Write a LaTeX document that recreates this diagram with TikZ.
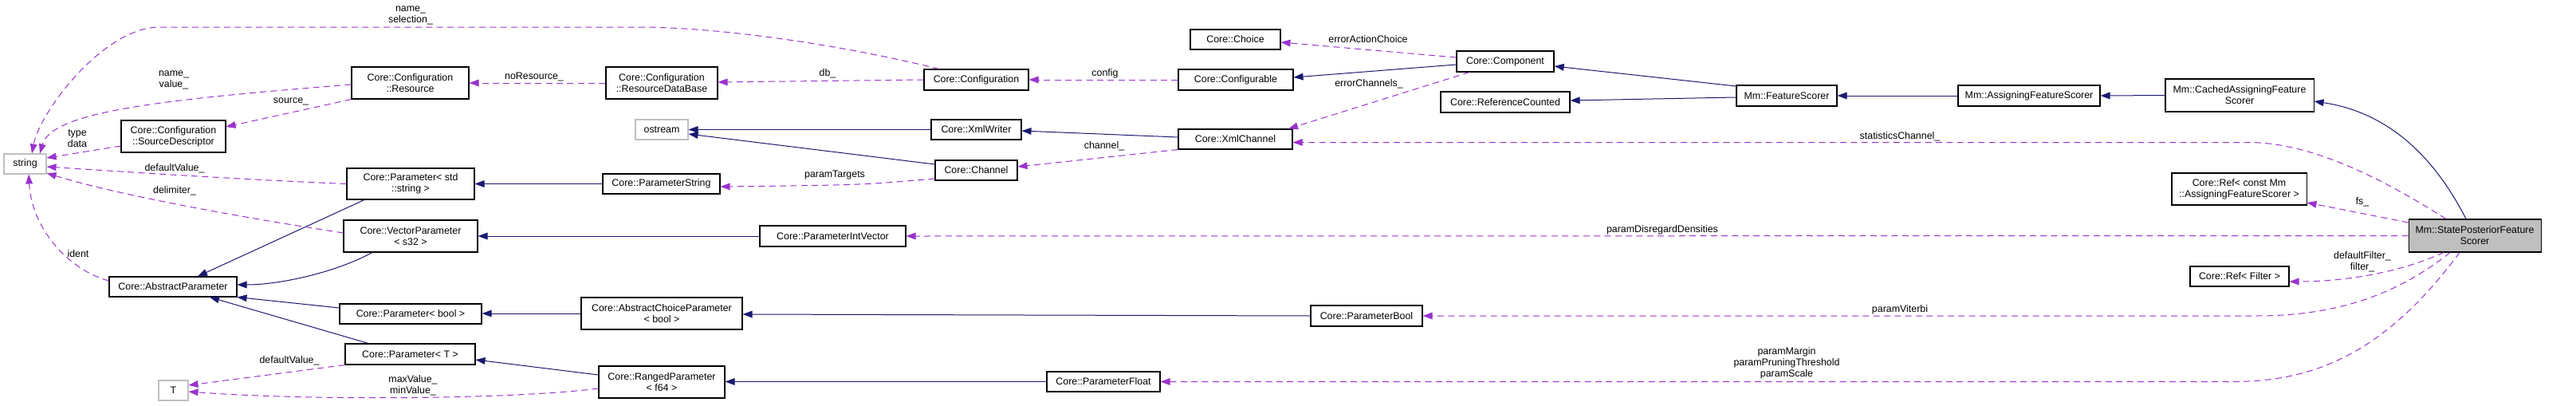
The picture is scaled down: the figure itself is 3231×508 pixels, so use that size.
\documentclass[tikz,border=0pt]{standalone}
\usepackage{fontspec}
\setmainfont{Liberation Sans}
\usetikzlibrary{arrows.meta}
\definecolor{inhcol}{HTML}{191970}
\definecolor{usecol}{HTML}{9A32CD}
\definecolor{extcol}{HTML}{BFBFBF}
\tikzstyle{cls}     = [rectangle, draw=black, fill=white, line width=0.8pt, inner sep=1pt, align=center, font=\fontsize{9.3}{10.5}\selectfont]
\tikzstyle{ext}     = [cls, draw=extcol]
\tikzstyle{focus}   = [cls, fill=extcol]
\tikzstyle{lbl}     = [inner sep=0pt, align=center, font=\fontsize{9.3}{10.5}\selectfont]
\tikzstyle{inherit} = [draw=inhcol, line width=0.75pt, -{Triangle[length=9pt,width=6.5pt]}]
\tikzstyle{member}  = [draw=usecol, line width=0.75pt, dash pattern=on 6pt off 4pt, -{Triangle[length=9pt,width=6.5pt]}]

\begin{document}
\begin{tikzpicture}[x=0.75pt, y=-0.75pt]
      \useasboundingbox (0,0) rectangle (3231,508);

      \node (string)       [ext, minimum width=39.75pt, minimum height=18.75pt] at (31.5,205.5)  {string};
      \node (resource)     [cls, minimum width=110.25pt, minimum height=30pt]   at (514.5,104)   {Core::Configuration\\::Resource};
      \node (sourcedesc)   [cls, minimum width=98.25pt, minimum height=30pt]    at (217.5,171)   {Core::Configuration\\::SourceDescriptor};
      \node (paramstd)     [cls, minimum width=120pt, minimum height=29.25pt]   at (515,230.5)   {Core::Parameter< std\\::string >};
      \node (vecparam)     [cls, minimum width=126pt, minimum height=30pt]      at (515,296)     {Core::VectorParameter\\< s32 >};
      \node (absparam)     [cls, minimum width=120pt, minimum height=18.75pt]   at (217,359.5)   {Core::AbstractParameter};
      \node (parambooltpl) [cls, minimum width=133.5pt, minimum height=18.75pt] at (515,393.5)   {Core::Parameter< bool >};
      \node (paramtpl)     [cls, minimum width=122.25pt, minimum height=19.5pt] at (514.5,444)   {Core::Parameter< T >};
      \node (T)            [ext, minimum width=27.75pt, minimum height=18.75pt] at (217.5,489.5) {T};

      \node (resdb)        [cls, minimum width=105pt, minimum height=30pt]      at (830,104)     {Core::Configuration\\::ResourceDataBase};
      \node (ostream)      [ext, minimum width=49.5pt, minimum height=18.75pt]  at (830,162.5)   {ostream};
      \node (paramstring)  [cls, minimum width=110.25pt, minimum height=18.75pt] at (829.5,230.5) {Core::ParameterString};
      \node (abschoice)    [cls, minimum width=151.5pt, minimum height=30pt]    at (830,393)     {Core::AbstractChoiceParameter\\< bool >};
      \node (ranged)       [cls, minimum width=118.5pt, minimum height=30pt]    at (830,479)     {Core::RangedParameter\\< f64 >};

      \node (config)       [cls, minimum width=98.25pt, minimum height=19.5pt]  at (1224.5,100)  {Core::Configuration};
      \node (xmlwriter)    [cls, minimum width=84.75pt, minimum height=18.75pt] at (1224.5,162.5) {Core::XmlWriter};
      \node (channel)      [cls, minimum width=77.25pt, minimum height=18.75pt] at (1224.5,213.5) {Core::Channel};
      \node (paramintvec)  [cls, minimum width=137.25pt, minimum height=19.5pt] at (1044.5,296)  {Core::ParameterIntVector};

      \node (choice)       [cls, minimum width=84.75pt, minimum height=18.75pt] at (1549.5,49.5) {Core::Choice};
      \node (configurable) [cls, minimum width=108pt, minimum height=19.5pt]    at (1550,100)    {Core::Configurable};
      \node (xmlchannel)   [cls, minimum width=107.25pt, minimum height=18.75pt] at (1549.5,174.5) {Core::XmlChannel};
      \node (paramfloat)   [cls, minimum width=106.5pt, minimum height=18.75pt] at (1384,478.5)  {Core::ParameterFloat};
      \node (parambool)    [cls, minimum width=105pt, minimum height=19.5pt]    at (1714,396)    {Core::ParameterBool};

      \node (component)    [cls, minimum width=91.5pt, minimum height=19.5pt]   at (1888,77)     {Core::Component};
      \node (refcounted)   [cls, minimum width=121.5pt, minimum height=19.5pt]  at (1888,128)    {Core::ReferenceCounted};
      \node (featscorer)   [cls, minimum width=94.5pt, minimum height=19.5pt]   at (2241,120)    {Mm::FeatureScorer};
      \node (assignscorer) [cls, minimum width=133.5pt, minimum height=19.5pt]  at (2545,120)    {Mm::AssigningFeatureScorer};
      \node (cachedscorer) [cls, minimum width=139.5pt, minimum height=30.75pt] at (2809,119.5)  {Mm::CachedAssigningFeature\\Scorer};
      \node (refscorer)    [cls, minimum width=126.75pt, minimum height=30pt]   at (2808.5,237)  {Core::Ref< const Mm\\::AssigningFeatureScorer >};
      \node (reffilter)    [cls, minimum width=93pt, minimum height=18.75pt]    at (2809,346.5)  {Core::Ref< Filter >};
      \node (posterior)    [focus, minimum width=124.5pt, minimum height=30.75pt] at (3104,295.5) {Mm::StatePosteriorFeature\\Scorer};

      % base classes
      \draw [inherit] (paramstring.west) -- (paramstd.east);
      \draw [inherit] (paramstd.south -| 457,0) -- (absparam.north -| 248,0);
      \draw [inherit] (vecparam.south -| 467,0) .. controls (420,342) and (350,357) .. (absparam.east |- 0,357);
      \draw [inherit] (parambooltpl.west |- 0,386) -- (absparam.south east);
      \draw [inherit] (paramtpl.north -| 462,0) -- (absparam.south -| 263,0);
      \draw [inherit] (paramintvec.west) -- (vecparam.east);
      \draw [inherit] (abschoice.west |- 0,393) -- (parambooltpl.east |- 0,393);
      \draw [inherit] (ranged.west |- 0,470) -- (paramtpl.east |- 0,451);
      \draw [inherit] (parambool.west) -- (abschoice.east |- 0,394);
      \draw [inherit] (paramfloat.west) -- (ranged.east |- 0,478.5);
      \draw [inherit] (xmlwriter.west) -- (ostream.east);
      \draw [inherit] (channel.west |- 0,206) -- (ostream.east |- 0,168);
      \draw [inherit] (xmlchannel.west |- 0,172) -- (xmlwriter.east |- 0,164);
      \draw [inherit] (component.west |- 0,81) -- (configurable.east |- 0,97);
      \draw [inherit] (featscorer.west |- 0,108) -- (component.east |- 0,83);
      \draw [inherit] (featscorer.west |- 0,122) -- (refcounted.east |- 0,126);
      \draw [inherit] (assignscorer.west) -- (featscorer.east);
      \draw [inherit] (cachedscorer.west) -- (assignscorer.east);
      \draw [inherit] (posterior.north -| 3093,0) .. controls (3050,190) and (2990,140) .. (cachedscorer.east |- 0,127);

      % members
      \draw [member] (config.north -| 1178,0) .. controls (1050,55) and (900,34) .. (800,34) -- (200,34) .. controls (130,34) and (50,140) .. (string.north -| 40,0);
      \draw [member] (resource.west |- 0,106) .. controls (200,125) and (65,140) .. (string.north -| 50,0);
      \draw [member] (resource.south west) -- (sourcedesc.east |- 0,159);
      \draw [member] (sourcedesc.west |- 0,183) -- (string.east |- 0,198);
      \draw [member] (paramstd.west) .. controls (300,225) and (150,215) .. (string.east |- 0,209);
      \draw [member] (vecparam.west |- 0,292) .. controls (300,272) and (150,245) .. (string.east |- 0,217);
      \draw [member] (absparam.west |- 0,352) .. controls (90,340) and (40,290) .. (string.south -| 36,0);
      \draw [member] (paramtpl.south west) -- (T.east |- 0,483);
      \draw [member] (ranged.west |- 0,487) .. controls (650,500) and (400,503) .. (T.east |- 0,491);
      \draw [member] (resdb.west) -- (resource.east);
      \draw [member] (config.west) -- (resdb.east |- 0,103);
      \draw [member] (configurable.west) -- (config.east);
      \draw [member] (component.west |- 0,72) -- (choice.east |- 0,53);
      \draw [member] (component.south -| 1843,0) -- (xmlchannel.north -| 1616,0);
      \draw [member] (xmlchannel.south west) -- (channel.east |- 0,209);
      \draw [member] (channel.west |- 0,224) .. controls (1080,232) .. (paramstring.east |- 0,234);
      \draw [member] (posterior.north -| 3068,0) .. controls (2990,225) and (2900,178.5) .. (2820,178.5) -- (xmlchannel.east |- 0,178.5);
      \draw [member] (posterior.west |- 0,279) -- (refscorer.east |- 0,254);
      \draw [member] (posterior.west) -- (paramintvec.east);
      \draw [member] (posterior.south -| 3065,0) .. controls (3010,342) and (2940,353) .. (reffilter.east |- 0,353);
      \draw [member] (posterior.south -| 3073,0) .. controls (3000,375) and (2920,396) .. (2830,396) -- (parambool.east);
      \draw [member] (posterior.south -| 3085,0) .. controls (2990,445) and (2900,478.5) .. (2800,478.5) -- (paramfloat.east);

      % member names
      \node (lnamesel)   [lbl] at (515,19.5)   {name\_\\selection\_};
      \node (lnameval)   [lbl] at (218,100)    {name\_\\value\_};
      \node (lsource)    [lbl] at (365,127)    {source\_};
      \node (ltypedata)  [lbl] at (97,173.5)   {type\\data};
      \node (ldefval)    [lbl] at (219,211)    {defaultValue\_};
      \node (ldelim)     [lbl] at (219,239)    {delimiter\_};
      \node (lident)     [lbl] at (98,318)     {ident};
      \node (ldefvalT)   [lbl] at (363,452)    {defaultValue\_};
      \node (lmaxmin)    [lbl] at (518,483)    {maxValue\_\\minValue\_};
      \node (lnores)     [lbl] at (670,96)     {noResource\_};
      \node (ldb)        [lbl] at (1038,92)    {db\_};
      \node (ltargets)   [lbl] at (1047,220)   {paramTargets};
      \node (lconfig)    [lbl] at (1386,92)    {config};
      \node (lchannel)   [lbl] at (1385,183)   {channel\_};
      \node (lerraction) [lbl] at (1716,49)    {errorActionChoice};
      \node (lerrchan)   [lbl] at (1717,105)   {errorChannels\_};
      \node (lstats)     [lbl] at (2383,171)   {statisticsChannel\_};
      \node (ldisregard) [lbl] at (2085,288)   {paramDisregardDensities};
      \node (lviterbi)   [lbl] at (2383,388)   {paramViterbi};
      \node (lmargin)    [lbl] at (2241,455.5) {paramMargin\\paramPruningThreshold\\paramScale};
      \node (lfs)        [lbl] at (2963,253)   {fs\_};
      \node (lfilter)    [lbl] at (2963,328.5) {defaultFilter\_\\filter\_};
    \end{tikzpicture}
\end{document}
